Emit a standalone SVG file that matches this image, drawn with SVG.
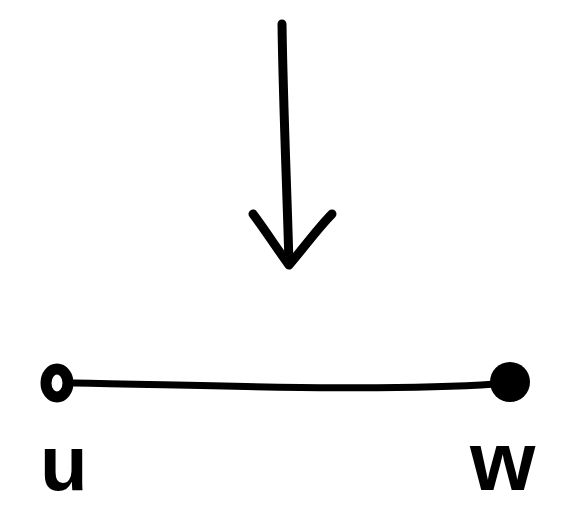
<svg xmlns="http://www.w3.org/2000/svg" width="584" height="508" viewBox="0 0 584 508">
<style>
.ink{fill:none;stroke:#000;stroke-width:9;stroke-linecap:round;stroke-linejoin:round}
.lbl{font-family:"Liberation Sans",Arial,sans-serif;font-weight:bold;fill:#000}
</style>
<rect width="584" height="508" fill="#fff"/>
<g id="connectors">
<path class="ink" d="M282,24 C283,100 287,190 289,264"/>
<path class="ink" d="M253,214 C265,230 278,250 289,265 C302,250 318,228 332,214"/>
<path class="ink" d="M74,383 C200,385 380,392 495,384" style="stroke-width:7"/>
</g>
<g id="node-u">
<ellipse cx="57" cy="383" rx="11" ry="14" fill="none" stroke="#000" stroke-width="11"/>
<text class="lbl" x="40" y="490" font-size="78">u</text>
</g>
<g id="node-w">
<circle cx="510" cy="382" r="20" fill="#000"/>
<text class="lbl" x="470" y="490" font-size="84">w</text>
</g>
</svg>
